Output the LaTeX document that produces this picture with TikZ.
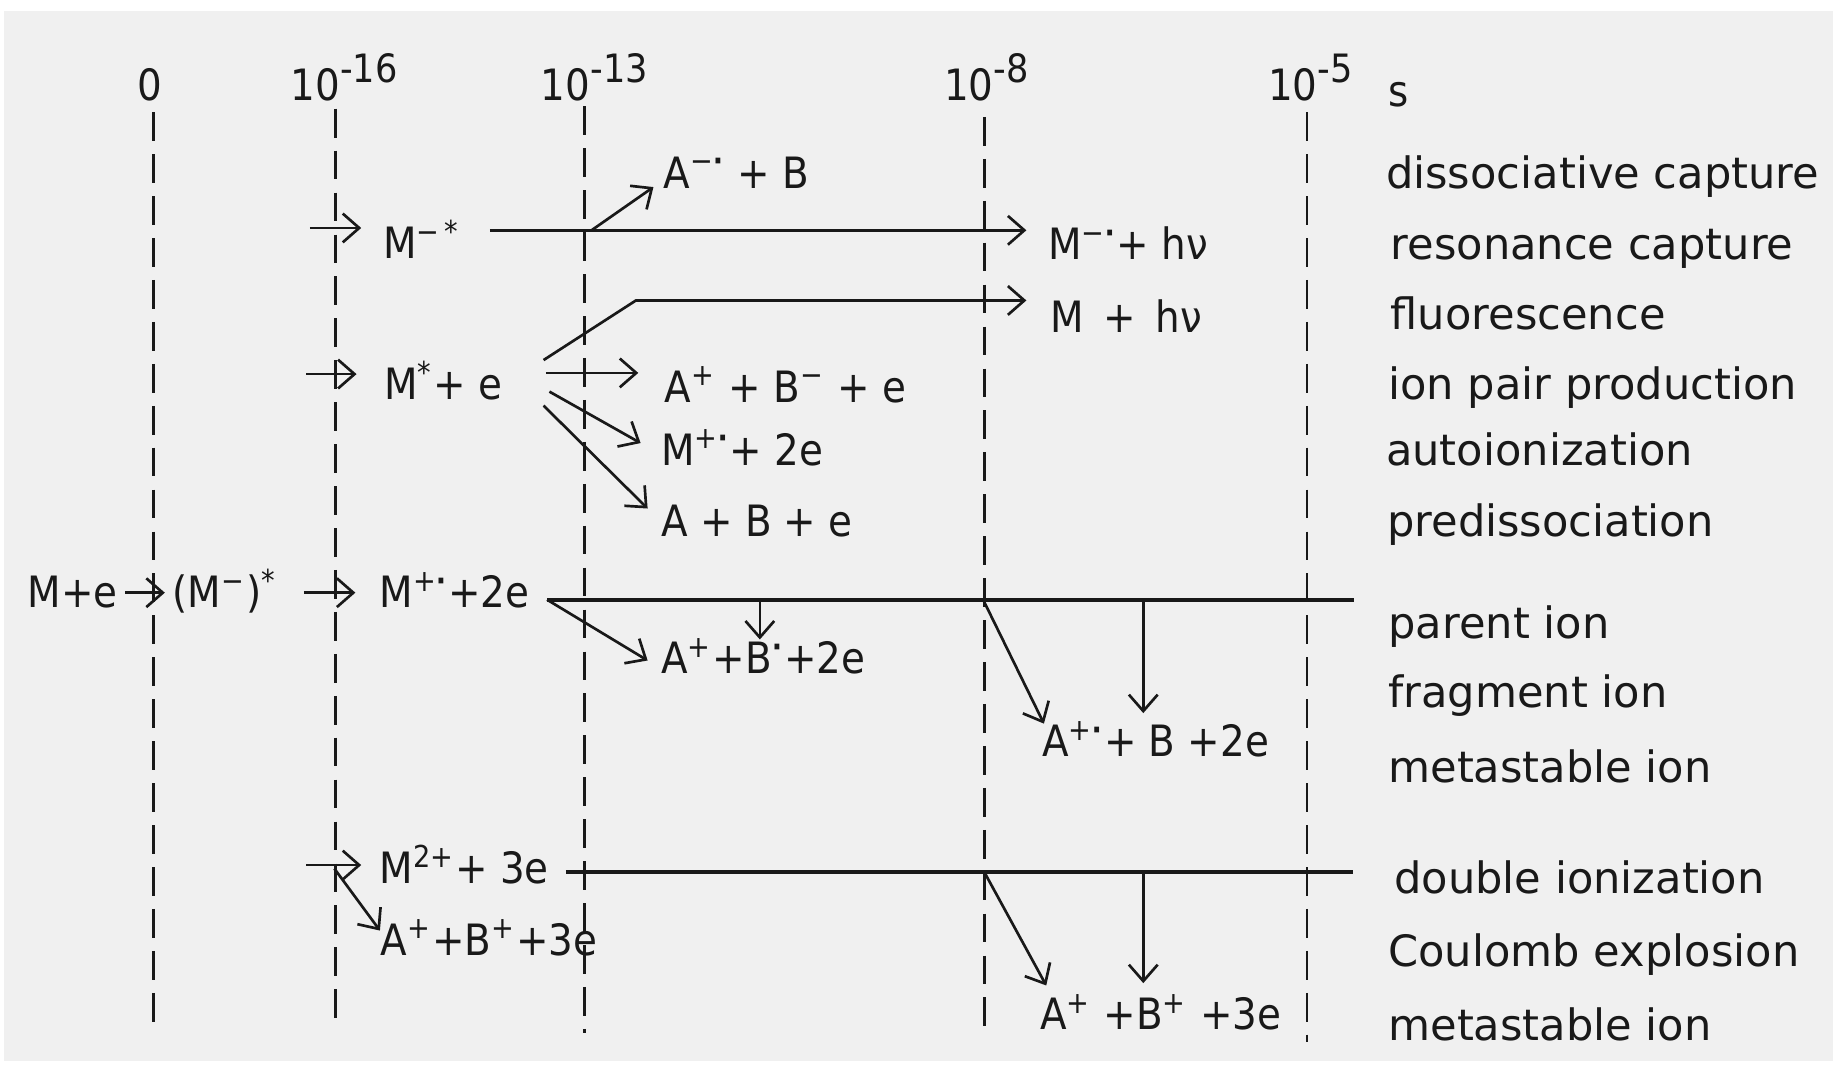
\documentclass[tikz,border=0pt]{standalone}
\usepackage{fontspec}
\setmainfont{DejaVu Sans}
\newfontfamily\narrowsans{DejaVu Sans Condensed}
\usetikzlibrary{arrows.meta, positioning}
\definecolor{paperGray}{RGB}{240,240,240}
\definecolor{inkBlack}{RGB}{25,25,25}
\newcommand{\up}[1]{\raisebox{4.4pt}{\fontsize{9.5}{10}\selectfont #1}}
\newcommand{\rdot}{\textbf{·}}

\begin{document}
\begin{tikzpicture}[
  x=0.01cm, y=-0.01cm,
  spec/.style={anchor=base west, inner sep=0pt, text=inkBlack,
               font=\narrowsans\fontsize{10.5}{12}\selectfont},
  lbl/.style={anchor=base west, inner sep=0pt, text=inkBlack,
              font=\fontsize{10.5}{12}\selectfont},
  tick/.style={anchor=base west, inner sep=0pt, text=inkBlack,
               font=\narrowsans\fontsize{10.5}{12}\selectfont},
  arr/.style={-{Straight Barb[length=4pt,width=7pt]}, line width=0.65pt, draw=inkBlack},
  tline/.style={dash pattern=on 7pt off 3.2pt, line width=0.7pt, draw=inkBlack},
  lvl/.style={line width=1pt, draw=inkBlack},
]

%% Frame
\useasboundingbox (0,0) rectangle (1568,914);
\fill[paperGray] (3.5,9) rectangle (1568,908);

%% Time axis
\node[tick, anchor=base] (t0) at (128,86) {0};
\node[tick] (t16) at (248,86) {10\up{-16}};
\node[tick] (t13) at (462,86) {10\up{-13}};
\node[tick] (t8)  at (807,86) {10\up{-8}};
\node[tick] (t5)  at (1084,86) {10\up{-5}};
\node[tick] (ts)  at (1187,91) {s};

\draw[tline] (131,96)  -- (131,880);
\draw[tline] (287,93)  -- (287,880);
\draw[tline] (500,91)  -- (500,884);
\draw[tline] (842,100) -- (842,884);
\draw[tline] (1118,96) -- (1118,891);

%% Species
\node[spec] (ms)     at (327,221) {M\textsuperscript{−\,*}};
\node[spec] (dcap)   at (567,161) {A\textsuperscript{−\rdot} + B};
\node[spec] (mrad)   at (896,222) {M\textsuperscript{−\rdot}+ hν};
\node[spec] (mfl)    at (898,284) {M~\,+~\,hν};
\node[spec] (mexc)   at (328,342) {M\textsuperscript{*}+ e};
\node[spec] (ipp)    at (568,344) {A\textsuperscript{+} + B\textsuperscript{−} + e};
\node[spec] (auto)   at (565,398) {M\textsuperscript{+\rdot}+ 2e};
\node[spec] (predis) at (565,459) {A + B + e};
\node[spec] (mpe)    at (23,520)  {M+e};
\node[spec] (mneg)   at (147,520) {(M\textsuperscript{−})\textsuperscript{*}};
\node[spec] (parent) at (324,520) {M\textsuperscript{+\rdot}+2e};
\node[spec] (frag)   at (565,576) {A\textsuperscript{+}+B\textsuperscript{\rdot}+2e};
\node[spec] (meta)   at (891,647) {A\textsuperscript{+\rdot}+ B +2e};
\node[spec] (dbl)    at (324,756) {M\textsuperscript{2+}+ 3e};
\node[spec] (coul)   at (325,817) {A\textsuperscript{+}+B\textsuperscript{+}+3e};
\node[spec] (metaB)  at (889,881) {A\textsuperscript{+} +B\textsuperscript{+} +3e};

%% Process names
\node[lbl] (dcapL)  at (1185,161) {dissociative capture};
\node[lbl] (resL)   at (1189,222) {resonance capture};
\node[lbl] (flL)    at (1189,282) {fluorescence};
\node[lbl] (ippL)   at (1187,342) {ion pair production};
\node[lbl] (autoL)  at (1185,398) {autoionization};
\node[lbl] (predL)  at (1186,459) {predissociation};
\node[lbl] (parL)   at (1187,546) {parent ion};
\node[lbl] (fragL)  at (1187,605) {fragment ion};
\node[lbl] (metaL)  at (1187,669) {metastable ion};
\node[lbl] (dblL)   at (1192,764) {double ionization};
\node[lbl] (coulL)  at (1187,827) {Coulomb explosion};
\node[lbl] (metaBL) at (1187,890) {metastable ion};

%% Branch points
\coordinate (capIn)   at (265,195);  \coordinate (capTo)   at (309,195);
\coordinate (capFrom) at (419,197);  \coordinate (radTo)   at (878,197);
\coordinate (capFork) at (506,197);  \coordinate (dcapTo)  at (559,160);
\coordinate (excIn)   at (262,320);  \coordinate (excTo)   at (305,320);
\coordinate (flFrom)  at (465,308);  \coordinate (flBend)  at (544,257);
\coordinate (flTo)    at (878,257);
\coordinate (ippFrom) at (467,319);  \coordinate (ippTo)   at (546,319);
\coordinate (autoFrom) at (470,335); \coordinate (autoTo)  at (548,379);
\coordinate (predFrom) at (465,347); \coordinate (predTo)  at (554,435);
\coordinate (ionIn)   at (107,507);  \coordinate (ionTo)   at (141,507);
\coordinate (ion2In)  at (260,507);  \coordinate (ion2To)  at (304,507);
\coordinate (parA)    at (468,513);  \coordinate (parB)    at (1158,513);
\coordinate (fragTo)  at (554,565);
\coordinate (parDrop) at (650,513);  \coordinate (parDropTo) at (650,547);
\coordinate (parMeta) at (841,513);  \coordinate (metaTo)  at (893,619);
\coordinate (parDown) at (978,513);  \coordinate (parDownTo) at (978,610);
\coordinate (dblIn)   at (262,740);  \coordinate (dblTo)   at (309,740);
\coordinate (coulFrom) at (286,743); \coordinate (coulTo)  at (325,796);
\coordinate (dblA)    at (484,746);  \coordinate (dblB)    at (1157,746);
\coordinate (dblMeta) at (842,746);  \coordinate (metaBTo) at (895,843);
\coordinate (dblDown) at (978,746);  \coordinate (dblDownTo) at (978,841);

%% Edges
\draw[arr] (capIn)   -- (capTo);
\draw[arr] (capFrom) -- (radTo);
\draw[arr] (capFork) -- (dcapTo);
\draw[arr] (excIn)   -- (excTo);
\draw[arr] (flFrom)  -- (flBend) -- (flTo);
\draw[arr] (ippFrom) -- (ippTo);
\draw[arr] (autoFrom) -- (autoTo);
\draw[arr] (predFrom) -- (predTo);
\draw[arr] (ionIn)   -- (ionTo);
\draw[arr] (ion2In)  -- (ion2To);
\draw[lvl] (parA)    -- (parB);
\draw[arr] (parA)    -- (fragTo);
\draw[arr] (parDrop) -- (parDropTo);
\draw[arr] (parMeta) -- (metaTo);
\draw[arr] (parDown) -- (parDownTo);
\draw[arr] (dblIn)   -- (dblTo);
\draw[arr] (coulFrom) -- (coulTo);
\draw[lvl] (dblA)    -- (dblB);
\draw[arr] (dblMeta) -- (metaBTo);
\draw[arr] (dblDown) -- (dblDownTo);
\end{tikzpicture}
\end{document}
